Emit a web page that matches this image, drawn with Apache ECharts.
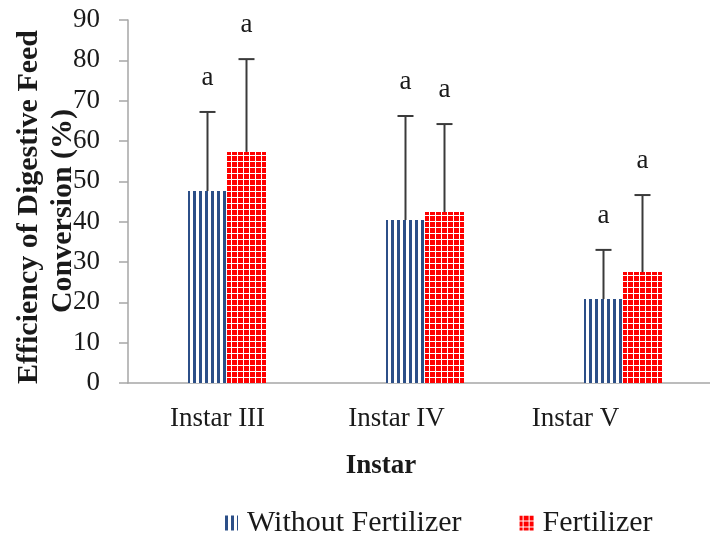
<!DOCTYPE html>
<html>
<head>
<meta charset="utf-8">
<script src="https://cdn.jsdelivr.net/npm/echarts@6/dist/echarts.min.js"></script>
<style>
  html, body { margin: 0; padding: 0; background: #fff; }
  #chart { width: 710px; height: 535px; }
</style>
</head>
<body>
<div id="chart"></div>
<script>
// Instar stages and mean feed-conversion efficiency (%) with SD (upper arm only)
const categories = ['Instar III', 'Instar IV', 'Instar V'];
const withoutFertilizer = [47.6, 40.4, 20.8];
const withFertilizer = [57.3, 42.4, 27.5];
const withoutFertilizerSD = [19.6, 25.8, 12.2];
const withFertilizerSD = [23.0, 21.8, 19.1];
// Significance letters above each bar
const withoutFertilizerLetters = ['a', 'a', 'a'];
const withFertilizerLetters = ['a', 'a', 'a'];
const seriesNames = ['Without Fertilizer', 'Fertilizer'];
const yTickMin = 0, yTickMax = 90, yTickStep = 10;

const SERIF = '"Liberation Serif", "Times New Roman", serif';
const BLUE = '#2c4f88';
const RED = '#ff0000';

// Vertical stripe fill
function stripePattern() {
  const c = document.createElement('canvas');
  c.width = 6; c.height = 6;
  const g = c.getContext('2d');
  g.fillStyle = '#ffffff';
  g.fillRect(0, 0, 6, 6);
  g.fillStyle = BLUE;
  g.fillRect(1, 0, 3, 6);
  return c;
}
// Small grid fill (red squares, white lines)
function gridPattern() {
  const c = document.createElement('canvas');
  c.width = 6; c.height = 6;
  const g = c.getContext('2d');
  g.fillStyle = '#ffffff';
  g.fillRect(0, 0, 6, 6);
  g.fillStyle = RED;
  g.fillRect(0, 0, 3, 5);
  g.fillRect(4, 0, 2, 5);
  return c;
}

const bluePattern = { image: stripePattern(), repeat: 'repeat' };
const redPattern = { image: gridPattern(), repeat: 'repeat' };

const chart = echarts.init(document.getElementById('chart'), null, { renderer: 'canvas' });

const BAR_W = 39;

function errorBarSeries(values, sds, letters, side) {
  return {
    type: 'custom',
    xAxisIndex: 1,
    yAxisIndex: 1,
    silent: true,
    z: 5,
    data: values.map((v, i) => [i, v, v + sds[i]]),
    renderItem: function (params, api) {
      const i = api.value(0);
      const base = api.coord([i, api.value(1)]);
      const top = api.coord([i, api.value(2)]);
      const x = base[0] + side * BAR_W / 2;
      const cap = 8;
      const lineStyle = { stroke: '#3a3a3a', lineWidth: 2 };
      return {
        type: 'group',
        children: [
          { type: 'line', shape: { x1: x, y1: base[1], x2: x, y2: top[1] }, style: lineStyle },
          { type: 'line', shape: { x1: x - cap, y1: top[1], x2: x + cap, y2: top[1] }, style: lineStyle },
          {
            type: 'text',
            style: {
              text: letters[i],
              x: x,
              y: top[1] - 34,
              align: 'center',
              verticalAlign: 'middle',
              font: '27px ' + SERIF,
              fill: '#1a1a1a'
            }
          }
        ]
      };
    }
  };
}

const option = {
  backgroundColor: '#ffffff',
  animation: false,
  grid: [
    { left: 128, top: 20, width: 537, height: 363, outerBoundsMode: 'none' },
    { left: 128, top: 20, width: 594, height: 363, outerBoundsMode: 'none' }
  ],
  xAxis: [
    {
      type: 'category',
      gridIndex: 0,
      data: categories,
      axisLine: { show: false },
      axisTick: { show: false },
      axisLabel: { margin: 22, fontFamily: SERIF, fontSize: 27, color: '#1a1a1a' }
    },
    {
      type: 'category',
      gridIndex: 1,
      data: categories,
      axisLine: { show: true, lineStyle: { color: '#a6a6a6', width: 1.5 } },
      axisTick: { show: false },
      axisLabel: { show: false }
    }
  ],
  yAxis: [
    {
      type: 'value',
      gridIndex: 0,
      min: yTickMin,
      max: yTickMax,
      interval: yTickStep,
      axisLine: { show: true, lineStyle: { color: '#a6a6a6', width: 1.5 } },
      axisTick: { show: true, length: 9, lineStyle: { color: '#a6a6a6', width: 1.5 } },
      splitLine: { show: false },
      axisLabel: { margin: 28, fontFamily: SERIF, fontSize: 27, color: '#1a1a1a' }
    },
    {
      type: 'value',
      gridIndex: 1,
      min: yTickMin,
      max: yTickMax,
      interval: yTickStep,
      show: false,
      splitLine: { show: false }
    }
  ],
  legend: {
    left: 219,
    top: 503,
    itemWidth: 14,
    itemHeight: 15,
    itemGap: 58,
    icon: 'rect',
    data: seriesNames,
    textStyle: { fontFamily: SERIF, fontSize: 30, color: '#1a1a1a', padding: [0, 0, 0, 4] }
  },
  graphic: [
    {
      type: 'text',
      x: 29, y: 207,
      rotation: Math.PI / 2,
      style: {
        text: 'Efficiency of Digestive Feed',
        align: 'center', verticalAlign: 'middle',
        font: 'bold 30px ' + SERIF, fill: '#1a1a1a'
      }
    },
    {
      type: 'text',
      x: 63, y: 211,
      rotation: Math.PI / 2,
      style: {
        text: 'Conversion (%)',
        align: 'center', verticalAlign: 'middle',
        font: 'bold 30px ' + SERIF, fill: '#1a1a1a'
      }
    },
    {
      type: 'text',
      x: 381, y: 466,
      style: {
        text: 'Instar',
        align: 'center', verticalAlign: 'middle',
        font: 'bold 27px ' + SERIF, fill: '#1a1a1a'
      }
    }
  ],
  series: [
    {
      name: seriesNames[0],
      type: 'bar',
      xAxisIndex: 1,
      yAxisIndex: 1,
      barWidth: BAR_W,
      barGap: '0%',
      itemStyle: { color: bluePattern },
      data: withoutFertilizer
    },
    {
      name: seriesNames[1],
      type: 'bar',
      xAxisIndex: 1,
      yAxisIndex: 1,
      barWidth: BAR_W,
      barGap: '0%',
      itemStyle: { color: redPattern },
      data: withFertilizer
    },
    errorBarSeries(withoutFertilizer, withoutFertilizerSD, withoutFertilizerLetters, -1),
    errorBarSeries(withFertilizer, withFertilizerSD, withFertilizerLetters, 1)
  ]
};

chart.setOption(option);
</script>
</body>
</html>
